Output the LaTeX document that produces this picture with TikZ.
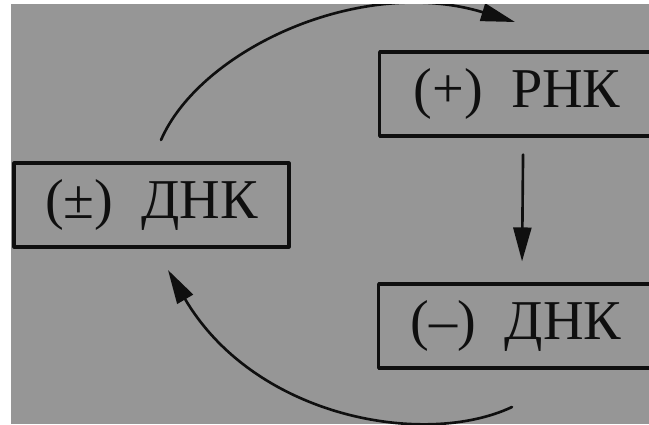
\documentclass[tikz,border=0pt]{standalone}
\usepackage{fontspec}
\setmainfont{Liberation Serif}
\usetikzlibrary{arrows.meta,positioning}
\definecolor{plategray}{RGB}{150,150,150}
\definecolor{inkblack}{RGB}{15,15,15}

\begin{document}
\begin{tikzpicture}[x=0.02cm,y=-0.02cm,>={Triangle[length=0.68cm,width=0.36cm]},line cap=round,line join=round,
 strandbox/.style={draw=inkblack,line width=1.8pt,minimum width=5.5cm,minimum height=1.68cm,inner sep=0pt,text=inkblack,font=\fontsize{32}{38}\selectfont},
 flow/.style={->,draw=inkblack,line width=1.5pt}]
 \useasboundingbox (0,0) rectangle (649,424);
 \clip (11,4) rectangle (649,424);
 \fill[plategray] (11,4) rectangle (649,424);
 \node[strandbox] (dnapm) at (151.5,205) {(±)\enskip ДНК};
 \node[strandbox,anchor=west] (rnap) at (378,94) {(+)\enskip РНК};
 \node[strandbox,anchor=west] (dnam) at (377,326) {(–)\enskip ДНК};
 \coordinate (replout) at (161,140);
 \coordinate (replin) at (515,22);
 \coordinate (backout) at (512,407);
 \coordinate (backin) at (168,270);
 \draw[flow] (replout) .. controls (200,50) and (360,-25) .. (replin);
 \draw[flow] ([xshift=0.12cm,yshift=-0.34cm]rnap.south) -- ([xshift=0.12cm,yshift=0.42cm]dnam.north);
 \draw[flow] (backout) .. controls (425,448) and (255,418) .. (backin);
\end{tikzpicture}
\end{document}
